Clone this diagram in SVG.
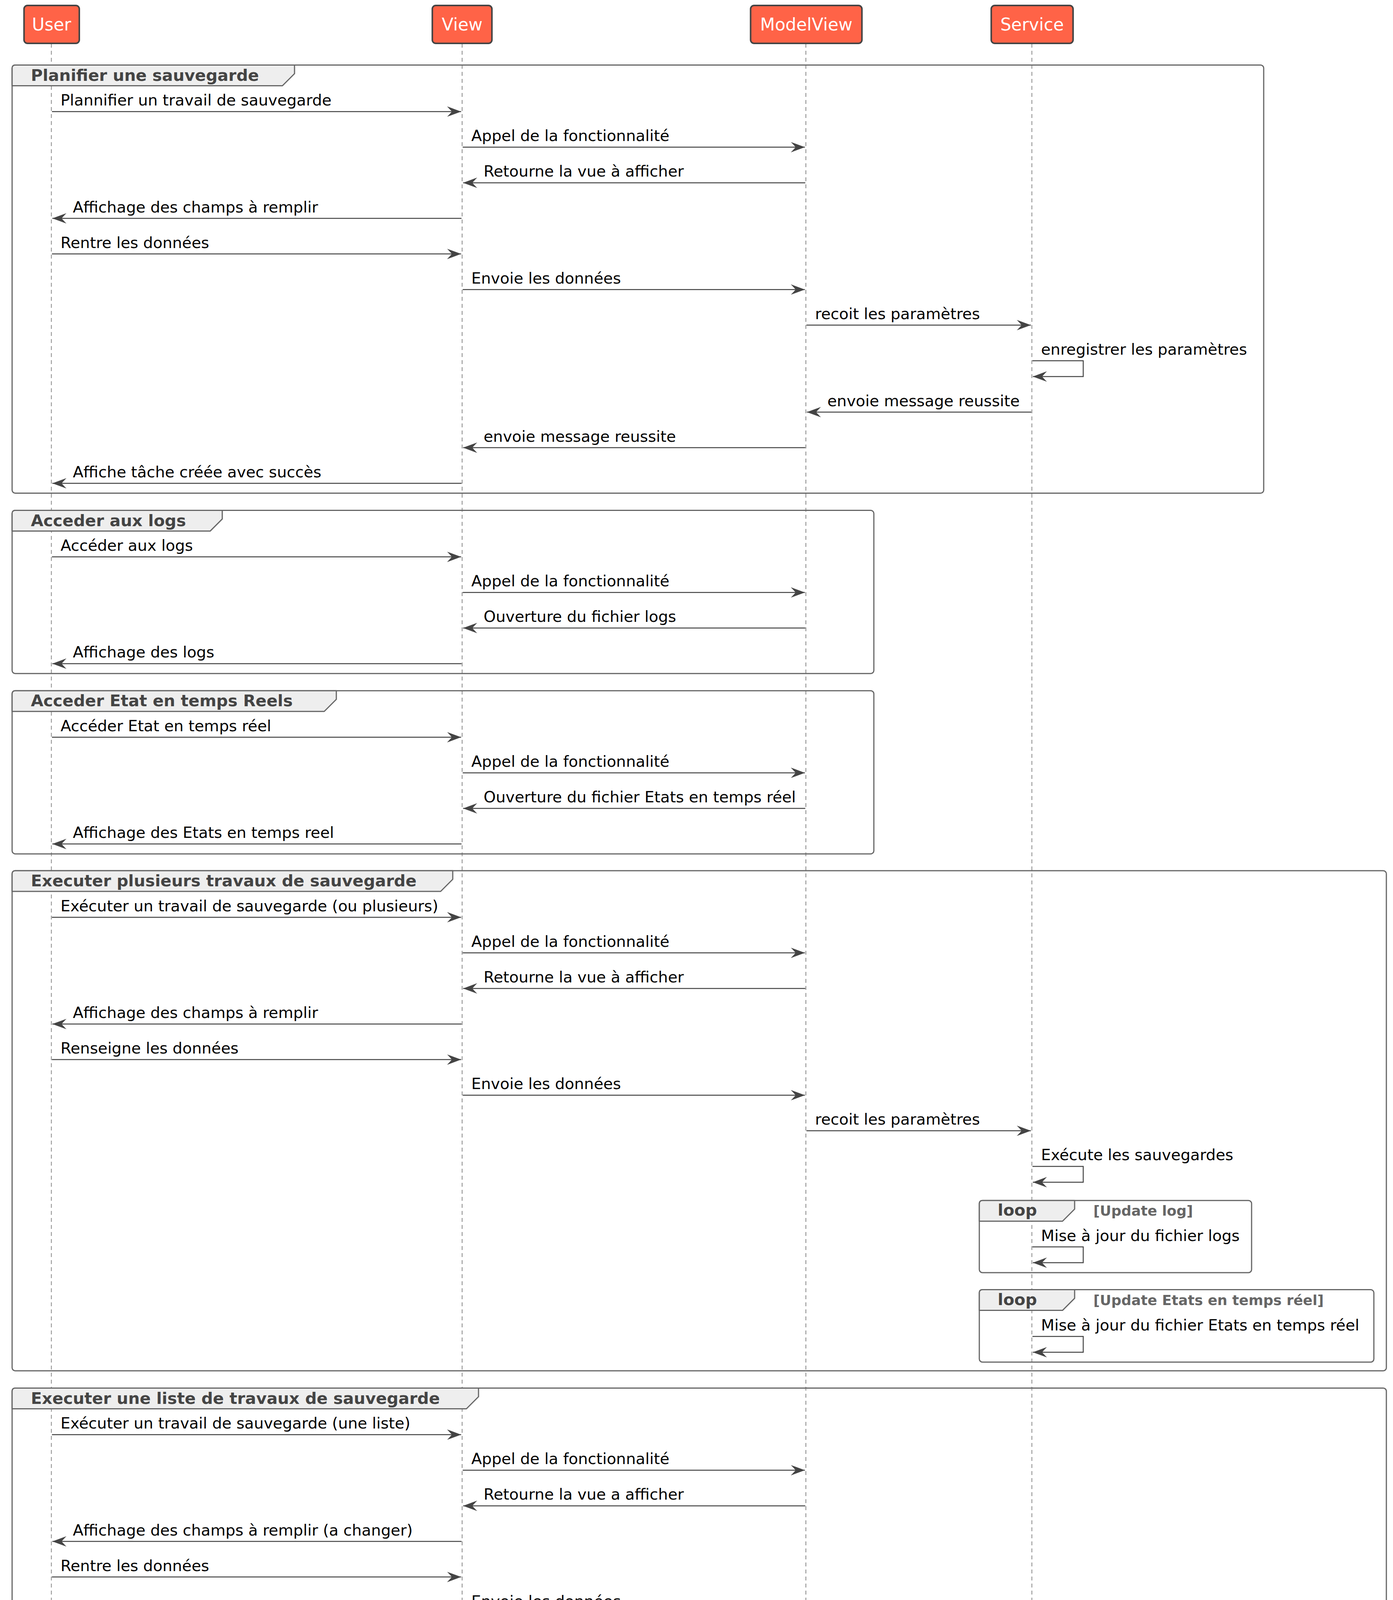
<svg xmlns="http://www.w3.org/2000/svg" width="3566" height="5638" viewBox="0 0 3566 5638">
<style>
text{font-family:"DejaVu Sans","Liberation Sans",sans-serif}
.life{stroke:#888;stroke-width:2;stroke-dasharray:10 8;fill:none}
.pbox{fill:#FF6347;stroke:#444;stroke-width:4}
.pname{fill:#fff;font-size:44px;text-anchor:middle}
.frame{fill:none;stroke:#666;stroke-width:3}
.tab{fill:#EEEEEE;stroke:#666;stroke-width:3;stroke-linejoin:round}
.gt{font-weight:bold;font-size:41.4px;fill:#444}
.cond{font-weight:bold;font-size:36px;fill:#666}
.msg{font-size:39.6px;fill:#000}
.ln{stroke:#444;stroke-width:2.5;fill:none;marker-end:url(#ah)}
</style>
<defs>
<marker id="ah" markerUnits="userSpaceOnUse" markerWidth="40" markerHeight="30" viewBox="0 0 40 30" refX="36" refY="14" orient="auto">
<path d="M36,14 L0,0.7 L12.5,14 L0,27.3 Z" fill="#444"/>
</marker>
</defs>
<rect x="0" y="0" width="3566" height="5638" fill="#fff"/>
<g id="lifelines">
<line class="life" x1="131.5" y1="112" x2="131.5" y2="5526"/>
<line class="life" x1="1183" y1="112" x2="1183" y2="5526"/>
<line class="life" x1="2063" y1="112" x2="2063" y2="5526"/>
<line class="life" x1="2641.5" y1="112" x2="2641.5" y2="5526"/>
</g>
<g id="User">
<rect class="pbox" x="61.5" y="14" width="141.5" height="97" rx="9"/>
<text class="pname" x="132" y="78">User</text>
<rect class="pbox" x="61.5" y="5526" width="141.5" height="97" rx="9"/>
<text class="pname" x="132" y="5590">User</text>
</g>
<g id="View">
<rect class="pbox" x="1106.7" y="14" width="152.6" height="97" rx="9"/>
<text class="pname" x="1183" y="78">View</text>
<rect class="pbox" x="1106.7" y="5526" width="152.6" height="97" rx="9"/>
<text class="pname" x="1183" y="5590">View</text>
</g>
<g id="ModelView">
<rect class="pbox" x="1921.5" y="14" width="285" height="97" rx="9"/>
<text class="pname" x="2064" y="78">ModelView</text>
<rect class="pbox" x="1921.5" y="5526" width="285" height="97" rx="9"/>
<text class="pname" x="2064" y="5590">ModelView</text>
</g>
<g id="Service">
<rect class="pbox" x="2537.5" y="14" width="209.5" height="97" rx="9"/>
<text class="pname" x="2642" y="78">Service</text>
<rect class="pbox" x="2537.5" y="5526" width="209.5" height="97" rx="9"/>
<text class="pname" x="2642" y="5590">Service</text>
</g>
<g id="group1">
<rect class="frame" x="31" y="166.5" width="3204" height="1096" rx="8"/>
<path class="tab" d="M31,219.5 V174.5 Q31,166.5 39,166.5 H754 V188.5 L723,219.5 Z"/>
<text class="gt" x="79" y="206.5">Planifier une sauvegarde</text>
</g>
<g id="group2">
<rect class="frame" x="31" y="1306.6" width="2206" height="417.6" rx="8"/>
<path class="tab" d="M31,1359.6 V1314.6 Q31,1306.6 39,1306.6 H569 V1328.6 L538,1359.6 Z"/>
<text class="gt" x="79" y="1346.6">Acceder aux logs</text>
</g>
<g id="group3">
<rect class="frame" x="31" y="1768.3" width="2206" height="417.6" rx="8"/>
<path class="tab" d="M31,1821.3 V1776.3 Q31,1768.3 39,1768.3 H861 V1790.3 L830,1821.3 Z"/>
<text class="gt" x="79" y="1808.3">Acceder Etat en temps Reels</text>
</g>
<g id="group4">
<rect class="frame" x="31" y="2229" width="3518" height="1280.2" rx="8"/>
<path class="tab" d="M31,2282 V2237 Q31,2229 39,2229 H1159 V2251 L1128,2282 Z"/>
<text class="gt" x="79" y="2269">Executer plusieurs travaux de sauvegarde</text>
</g>
<g id="loop4a">
<rect class="frame" x="2507" y="3073.3" width="697" height="184.7" rx="8"/>
<path class="tab" d="M2507,3126.3 V3081.3 Q2507,3073.3 2515,3073.3 H2751 V3095.3 L2720,3126.3 Z"/>
<text class="gt" x="2554" y="3112.3">loop</text>
<text class="cond" x="2799" y="3112.3">[Update log]</text>
</g>
<g id="loop4b">
<rect class="frame" x="2507" y="3301.6" width="1010" height="185.4" rx="8"/>
<path class="tab" d="M2507,3354.6 V3309.6 Q2507,3301.6 2515,3301.6 H2751 V3323.6 L2720,3354.6 Z"/>
<text class="gt" x="2554" y="3340.6">loop</text>
<text class="cond" x="2799" y="3340.6">[Update Etats en temps réel]</text>
</g>
<g id="group5">
<rect class="frame" x="31" y="3553.5" width="3518" height="1280.2" rx="8"/>
<path class="tab" d="M31,3606.5 V3561.5 Q31,3553.5 39,3553.5 H1225 V3575.5 L1194,3606.5 Z"/>
<text class="gt" x="79" y="3593.5">Executer une liste de travaux de sauvegarde</text>
</g>
<g id="loop5a">
<rect class="frame" x="2507" y="4397.8" width="697" height="184.7" rx="8"/>
<path class="tab" d="M2507,4450.8 V4405.8 Q2507,4397.8 2515,4397.8 H2751 V4419.8 L2720,4450.8 Z"/>
<text class="gt" x="2554" y="4436.8">loop</text>
<text class="cond" x="2799" y="4436.8">[Update log]</text>
</g>
<g id="loop5b">
<rect class="frame" x="2507" y="4626.1" width="1010" height="185.4" rx="8"/>
<path class="tab" d="M2507,4679.1 V4634.1 Q2507,4626.1 2515,4626.1 H2751 V4648.1 L2720,4679.1 Z"/>
<text class="gt" x="2554" y="4665.1">loop</text>
<text class="cond" x="2799" y="4665.1">[Update Etats en temps réel]</text>
</g>
<g id="group6">
<rect class="frame" x="31" y="4877.3" width="2746.5" height="599.6" rx="8"/>
<path class="tab" d="M31,4930.3 V4885.3 Q31,4877.3 39,4877.3 H1176 V4899.3 L1145,4930.3 Z"/>
<text class="gt" x="79" y="4917.3">Afficher la plafinnification des sauvegarde</text>
</g>
<g id="connectors">
<!-- group 1 -->
<line class="ln" x1="133" y1="285.7" x2="1180.5" y2="285.7"/><text class="msg" x="155" y="270.2">Plannifier un travail de sauvegarde</text>
<line class="ln" x1="1184.5" y1="376.8" x2="2060.5" y2="376.8"/><text class="msg" x="1206.5" y="361.3">Appel de la fonctionnalité</text>
<line class="ln" x1="2061.5" y1="467.9" x2="1185.5" y2="467.9"/><text class="msg" x="1238" y="452.4">Retourne la vue à afficher</text>
<line class="ln" x1="1181.5" y1="559" x2="134" y2="559"/><text class="msg" x="186.5" y="543.5">Affichage des champs à remplir</text>
<line class="ln" x1="133" y1="650.1" x2="1180.5" y2="650.1"/><text class="msg" x="155" y="634.6">Rentre les données</text>
<line class="ln" x1="1184.5" y1="741.2" x2="2060.5" y2="741.2"/><text class="msg" x="1206.5" y="725.7">Envoie les données</text>
<line class="ln" x1="2064.5" y1="832.3" x2="2639" y2="832.3"/><text class="msg" x="2086.5" y="816.8">recoit les paramètres</text>
<path class="ln" d="M2643,923.4 H2773 V963.9 H2644"/><text class="msg" x="2665" y="907.9">enregistrer les paramètres</text>
<line class="ln" x1="2640" y1="1055" x2="2065.5" y2="1055"/><text class="msg" x="2118" y="1039.5">envoie message reussite</text>
<line class="ln" x1="2061.5" y1="1146.1" x2="1185.5" y2="1146.1"/><text class="msg" x="1238" y="1130.6">envoie message reussite</text>
<line class="ln" x1="1181.5" y1="1237.2" x2="134" y2="1237.2"/><text class="msg" x="186.5" y="1221.7">Affiche tâche créée avec succès</text>
<!-- group 2 -->
<line class="ln" x1="133" y1="1425.6" x2="1180.5" y2="1425.6"/><text class="msg" x="155" y="1410.1">Accéder aux logs</text>
<line class="ln" x1="1184.5" y1="1516.7" x2="2060.5" y2="1516.7"/><text class="msg" x="1206.5" y="1501.2">Appel de la fonctionnalité</text>
<line class="ln" x1="2061.5" y1="1607.8" x2="1185.5" y2="1607.8"/><text class="msg" x="1238" y="1592.3">Ouverture du fichier logs</text>
<line class="ln" x1="1181.5" y1="1698.9" x2="134" y2="1698.9"/><text class="msg" x="186.5" y="1683.4">Affichage des logs</text>
<!-- group 3 -->
<line class="ln" x1="133" y1="1887.3" x2="1180.5" y2="1887.3"/><text class="msg" x="155" y="1871.8">Accéder Etat en temps réel</text>
<line class="ln" x1="1184.5" y1="1978.4" x2="2060.5" y2="1978.4"/><text class="msg" x="1206.5" y="1962.9">Appel de la fonctionnalité</text>
<line class="ln" x1="2061.5" y1="2069.5" x2="1185.5" y2="2069.5"/><text class="msg" x="1238" y="2054">Ouverture du fichier Etats en temps réel</text>
<line class="ln" x1="1181.5" y1="2160.6" x2="134" y2="2160.6"/><text class="msg" x="186.5" y="2145.1">Affichage des Etats en temps reel</text>
<!-- group 4 -->
<line class="ln" x1="133" y1="2348.2" x2="1180.5" y2="2348.2"/><text class="msg" x="155" y="2332.7">Exécuter un travail de sauvegarde (ou plusieurs)</text>
<line class="ln" x1="1184.5" y1="2439.3" x2="2060.5" y2="2439.3"/><text class="msg" x="1206.5" y="2423.8">Appel de la fonctionnalité</text>
<line class="ln" x1="2061.5" y1="2530.4" x2="1185.5" y2="2530.4"/><text class="msg" x="1238" y="2514.9">Retourne la vue à afficher</text>
<line class="ln" x1="1181.5" y1="2621.5" x2="134" y2="2621.5"/><text class="msg" x="186.5" y="2606">Affichage des champs à remplir</text>
<line class="ln" x1="133" y1="2712.6" x2="1180.5" y2="2712.6"/><text class="msg" x="155" y="2697.1">Renseigne les données</text>
<line class="ln" x1="1184.5" y1="2803.7" x2="2060.5" y2="2803.7"/><text class="msg" x="1206.5" y="2788.2">Envoie les données</text>
<line class="ln" x1="2064.5" y1="2894.8" x2="2639" y2="2894.8"/><text class="msg" x="2086.5" y="2879.3">recoit les paramètres</text>
<path class="ln" d="M2643,2985.9 H2773 V3026.4 H2644"/><text class="msg" x="2665" y="2970.4">Exécute les sauvegardes</text>
<path class="ln" d="M2643,3192 H2773 V3232.5 H2644"/><text class="msg" x="2665" y="3176.5">Mise à jour du fichier logs</text>
<path class="ln" d="M2643,3421.3 H2773 V3461.8 H2644"/><text class="msg" x="2665" y="3405.8">Mise à jour du fichier Etats en temps réel</text>
<!-- group 5 -->
<line class="ln" x1="133" y1="3672.7" x2="1180.5" y2="3672.7"/><text class="msg" x="155" y="3657.2">Exécuter un travail de sauvegarde (une liste)</text>
<line class="ln" x1="1184.5" y1="3763.8" x2="2060.5" y2="3763.8"/><text class="msg" x="1206.5" y="3748.3">Appel de la fonctionnalité</text>
<line class="ln" x1="2061.5" y1="3854.9" x2="1185.5" y2="3854.9"/><text class="msg" x="1238" y="3839.4">Retourne la vue a afficher</text>
<line class="ln" x1="1181.5" y1="3946" x2="134" y2="3946"/><text class="msg" x="186.5" y="3930.5">Affichage des champs à remplir (a changer)</text>
<line class="ln" x1="133" y1="4037.1" x2="1180.5" y2="4037.1"/><text class="msg" x="155" y="4021.6">Rentre les données</text>
<line class="ln" x1="1184.5" y1="4128.2" x2="2060.5" y2="4128.2"/><text class="msg" x="1206.5" y="4112.7">Envoie les données</text>
<line class="ln" x1="2064.5" y1="4219.3" x2="2639" y2="4219.3"/><text class="msg" x="2086.5" y="4203.8">recoit les paramètres</text>
<path class="ln" d="M2643,4310.4 H2773 V4350.9 H2644"/><text class="msg" x="2665" y="4294.9">Executer les sauvegardes</text>
<path class="ln" d="M2643,4516.5 H2773 V4557 H2644"/><text class="msg" x="2665" y="4501">Mise à jour du fichier logs</text>
<path class="ln" d="M2643,4745.8 H2773 V4786.3 H2644"/><text class="msg" x="2665" y="4730.3">Mise à jour du fichier Etats en temps réel</text>
<!-- group 6 -->
<line class="ln" x1="133" y1="4996.3" x2="1180.5" y2="4996.3"/><text class="msg" x="155" y="4980.8">Accéder Plannification des sauvegarde</text>
<line class="ln" x1="1184.5" y1="5087.4" x2="2060.5" y2="5087.4"/><text class="msg" x="1206.5" y="5071.9">Appel de la fonctionnalité</text>
<line class="ln" x1="2064.5" y1="5178.5" x2="2639" y2="5178.5"/><text class="msg" x="2086.5" y="5163">Récupère les données</text>
<line class="ln" x1="2640" y1="5269.6" x2="2065.5" y2="5269.6"/><text class="msg" x="2118" y="5254.1">Transfert les données</text>
<line class="ln" x1="2061.5" y1="5360.7" x2="1185.5" y2="5360.7"/><text class="msg" x="1238" y="5345.2">Retour de la vue</text>
<line class="ln" x1="1181.5" y1="5451.8" x2="134" y2="5451.8"/><text class="msg" x="186.5" y="5436.3">Affichage de la vue à l'utilisateur</text>
</g>
</svg>
